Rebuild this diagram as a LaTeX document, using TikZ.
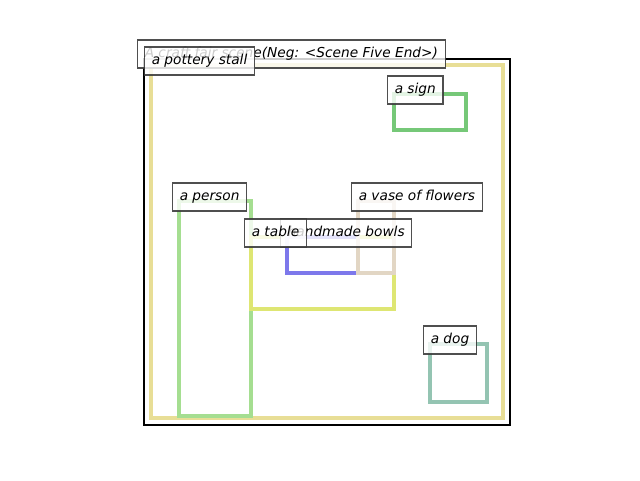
\documentclass[tikz,border=0pt]{standalone}
\usepackage{fontspec}
\setmainfont{DejaVu Sans}
\usetikzlibrary{positioning}

\definecolor{stallc}{RGB}{232,222,150}
\definecolor{signc}{RGB}{118,200,120}
\definecolor{personc}{RGB}{165,222,145}
\definecolor{tablec}{RGB}{222,230,115}
\definecolor{bowlc}{RGB}{125,120,235}
\definecolor{vasec}{RGB}{226,214,196}
\definecolor{dogc}{RGB}{148,196,178}
\definecolor{lblborder}{RGB}{60,60,60}

\begin{document}
\begin{tikzpicture}[x=1pt,y=-1pt]
		\tikzstyle{every node}=[font=\fontsize{13.7}{16}\selectfont\itshape]
		\tikzstyle{box}=[line width=3.1pt]
		\tikzstyle{lbl}=[anchor=west,draw=lblborder,line width=1.1pt,fill=white,
			fill opacity=0.8,draw opacity=0.9,text opacity=1,
			inner xsep=7.2pt,inner ysep=7pt,text height=10.5pt,text depth=3.5pt]
		\useasboundingbox (0,0) rectangle (640,480);
		% frame and boxes
		\draw[line width=2.8pt] (144,59) rectangle (510,425);
		\coordinate (stall) at (151,65);
		\coordinate (sign) at (394,94);
		\coordinate (person) at (179,201);
		\coordinate (table) at (251,237);
		\coordinate (bowls) at (287,237);
		\coordinate (vase) at (358,201);
		\coordinate (dog) at (430,344);
		\draw[box,stallc] (stall) rectangle (503,418);
		\draw[box,signc] (sign) rectangle (466,130);
		\draw[box,personc] (person) rectangle (251,416);
		\draw[box,tablec] (table) rectangle (394,309);
		\draw[box,bowlc] (bowls) rectangle (358,273);
		\draw[box,vasec] (vase) rectangle (394,273);
		\draw[box,dogc] (dog) rectangle (487,402);
		% labels
		\node[lbl] (title) at (137,54) {A craft fair scene(Neg: <Scene Five End>)};
		\node[lbl] (stalllbl) at ([shift={(-7,-4)}]stall) {a pottery stall};
		\node[lbl] (signlbl) at ([shift={(-7,-4)}]sign) {a sign};
		\node[lbl] (personlbl) at ([shift={(-7,-4)}]person) {a person};
		\node[lbl] (vaselbl) at ([shift={(-7,-4)}]vase) {a vase of flowers};
		\node[lbl] (bowlslbl) at ([shift={(-7,-4)}]bowls) {handmade bowls};
		\node[lbl] (tablelbl) at ([shift={(-7,-4)}]table) {a table};
		\node[lbl] (doglbl) at ([shift={(-7,-4)}]dog) {a dog};
\end{tikzpicture}
\end{document}
